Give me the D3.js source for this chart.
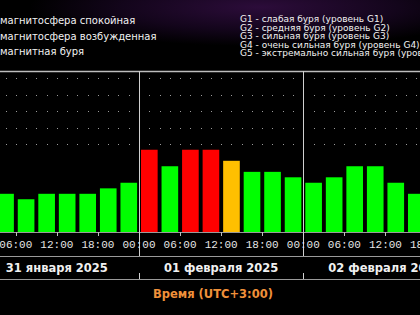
<!DOCTYPE html>
<html><head><meta charset="utf-8">
<script src="https://cdn.jsdelivr.net/npm/d3@7"></script>
<style>html,body{margin:0;padding:0;background:#000;overflow:hidden}</style>
</head><body>
<svg id="c" width="420" height="315"></svg>
<script>
// ---- data ----
const dayLabels = ["31 января 2025", "01 февраля 2025", "02 февраля 2025"];
const kpJan31 = [null, 2, 1.67, 2, 2, 2, 2.33, 2.67];     // 3-hour slots 00..21
const kpFeb01 = [4.67, 3.67, 4.67, 4.67, 4, 3.33, 3.33, 3];
const kpFeb02 = [2.67, 3, 3.67, 3.67, 2.67, 2];
const gridLevels = [5, 6, 7, 8, 9];
const hourTicks = [6, 12, 18, 24, 30, 36, 42, 48, 54, 60, 66];
const legendLeft = ["магнитосфера спокойная", "магнитосфера возбужденная", "магнитная буря"];
const legendRight = ["G1 - слабая буря (уровень G1)", "G2 - средняя буря (уровень G2)",
  "G3 - сильная буря (уровень G3)", "G4 - очень сильная буря (уровень G4)",
  "G5 - экстремально сильная буря (уровень G5)"];
const axisTitle = "Время (UTC+3:00)";

const svg = d3.select("#c");
const W = 420, H = 315;

// background glow
const defs = svg.append("defs");
const g1 = defs.append("radialGradient").attr("id", "glow").attr("cx", "0.62").attr("cy", "0.1").attr("r", "0.55");
g1.append("stop").attr("offset", "0").attr("stop-color", "#2c0c3a");
g1.append("stop").attr("offset", "0.6").attr("stop-color", "#13051b");
g1.append("stop").attr("offset", "1").attr("stop-color", "#000");
svg.append("rect").attr("width", W).attr("height", H).attr("fill", "#000");
svg.append("rect").attr("width", W).attr("height", 71).attr("fill", "url(#glow)");

const plotTop = 71, plotBottom = 232;
const x = d3.scaleLinear().domain([0, 72]).range([-25.3, -25.3 + 3 * 164.3]);
const y = d3.scaleLinear().domain([0, 9]).range([226.8, 78.3]);
const slotW = x(3) - x(0);

// series to records
const series = [kpJan31, kpFeb01, kpFeb02];
const bars = [];
series.forEach((arr, d) => arr.forEach((v, i) => { if (v != null) bars.push({ h: d * 24 + i * 3, v }); }));
const color = v => v >= 4.5 ? "#ff0000" : v >= 4 ? "#ffbf00" : "#00ff00";

// dotted grid
const dotHours = d3.range(0, 72.01, 1.5).filter(h => h % 24 !== 0);
gridLevels.forEach(l => {
  svg.append("g").selectAll("rect").data(dotHours).join("rect")
    .attr("x", h => Math.round(x(h))).attr("y", Math.round(y(l)))
    .attr("width", 1).attr("height", 1).attr("fill", "#9a9a9a");
});

// bars
svg.append("g").selectAll("rect").data(bars).join("rect")
  .attr("x", d => x(d.h) + 2).attr("width", slotW - 3.9)
  .attr("y", d => y(d.v)).attr("height", d => plotBottom - y(d.v))
  .attr("fill", d => color(d.v));

// frame lines
const lineC = "#bdbdbd";
svg.append("line").attr("x1", 0).attr("x2", W).attr("y1", plotTop + 0.5).attr("y2", plotTop + 0.5).attr("stroke", lineC).attr("stroke-width", 1.3);
svg.append("line").attr("x1", 0).attr("x2", W).attr("y1", plotBottom + 0.5).attr("y2", plotBottom + 0.5).attr("stroke", "#9a9a9a");
svg.append("line").attr("x1", 0).attr("x2", W).attr("y1", 256.5).attr("y2", 256.5).attr("stroke", "#9a9a9a");
svg.append("line").attr("x1", 0).attr("x2", W).attr("y1", 279.5).attr("y2", 279.5).attr("stroke", "#9a9a9a");

// day dividers
[24, 48].forEach(h => {
  const xx = Math.round(x(h)) + 0.5;
  svg.append("line").attr("x1", xx).attr("x2", xx).attr("y1", plotTop).attr("y2", 256).attr("stroke", "#d0d0d0");
  svg.append("line").attr("x1", xx).attr("x2", xx).attr("y1", 273).attr("y2", 279).attr("stroke", "#d0d0d0");
});

// hour ticks and labels
hourTicks.filter(h => h % 24 !== 0).forEach(h => {
  const xx = Math.round(x(h)) + 0.5;
  svg.append("line").attr("x1", xx).attr("x2", xx).attr("y1", plotBottom).attr("y2", plotBottom + 4).attr("stroke", "#bdbdbd");
});
svg.append("g").selectAll("text").data([0, ...hourTicks]).join("text")
  .attr("x", h => x(h)).attr("y", 248)
  .attr("text-anchor", "middle")
  .attr("font-family", "Liberation Mono, monospace").attr("font-size", 11)
  .attr("fill", "#e6e6e6")
  .text(h => d3.format("02")(h % 24) + ":00");

// day labels
svg.append("g").selectAll("text").data(dayLabels).join("text")
  .attr("x", (d, i) => x(i * 24 + 12)).attr("y", 272)
  .attr("text-anchor", "middle")
  .attr("font-family", "DejaVu Sans, sans-serif").attr("font-weight", "bold").attr("font-size", 11.5)
  .attr("fill", "#f0f0f0")
  .text(d => d);

// axis title
svg.append("text").attr("x", 213).attr("y", 298).attr("text-anchor", "middle")
  .attr("font-family", "DejaVu Sans, sans-serif").attr("font-weight", "bold").attr("font-size", 11.5)
  .attr("fill", "#f0903a").text(axisTitle);

// legends
svg.append("g").selectAll("text").data(legendLeft).join("text")
  .attr("x", 0).attr("y", (d, i) => 24 + i * 15.5)
  .attr("font-family", "DejaVu Sans, sans-serif").attr("font-size", 10)
  .attr("fill", "#f2f2f2").text(d => d);
svg.append("g").selectAll("text").data(legendRight).join("text")
  .attr("x", 240).attr("y", (d, i) => 22 + i * 8.6)
  .attr("font-family", "DejaVu Sans, sans-serif").attr("font-size", 9)
  .attr("fill", "#f2f2f2").text(d => d);
</script>
</body></html>
